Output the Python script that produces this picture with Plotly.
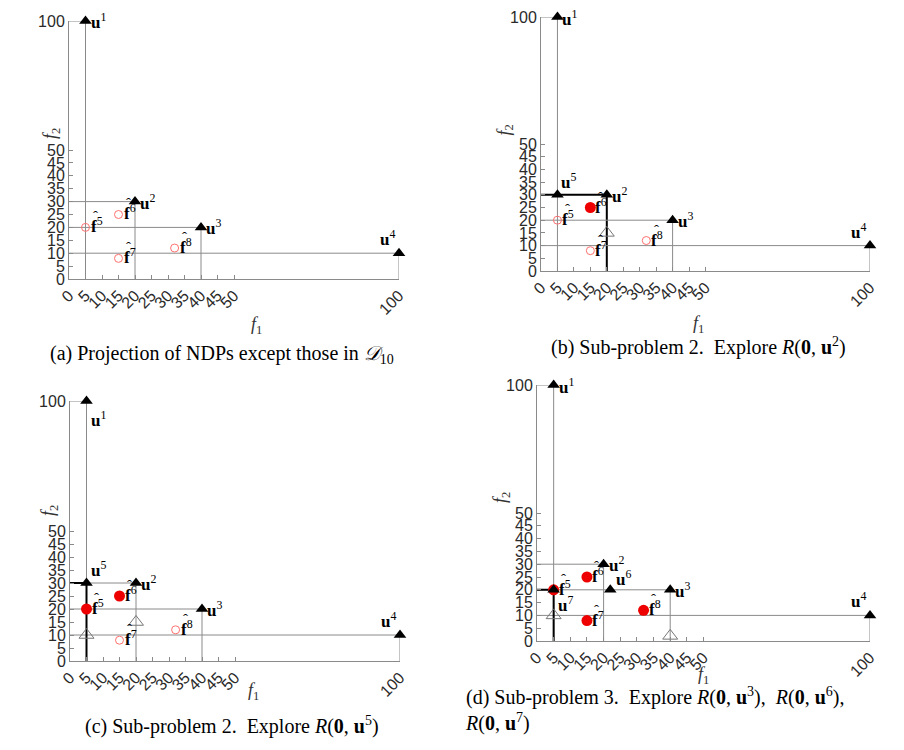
import plotly.graph_objects as go

# ---------------- data ----------------
U_NAMES = ["1", "2", "3", "4", "5", "6", "7"]
U_X = [5, 20, 40, 100, 5, 22, 5]
U_Y = [100, 30, 20, 10, 30, 20, 20]

F_NAMES = ["5", "6", "7", "8"]
F_X = [5, 15, 15, 32]
F_Y = [20, 25, 8, 12]

TICK_VALS = [0, 5, 10, 15, 20, 25, 30, 35, 40, 45, 50, 100]

# per-panel content
PANEL_U = {"a": [1, 2, 3, 4], "b": [1, 2, 3, 4, 5], "c": [1, 2, 3, 4, 5], "d": [1, 2, 3, 4, 6, 7]}
PANEL_L = {"a": [1, 2, 3, 4], "b": [1, 2, 3, 4], "c": [1, 2, 3, 4, 5], "d": [1, 2, 3, 4, 7]}
PANEL_THICK = {"a": None, "b": 2, "c": 5, "d": 7}
PANEL_FILLED = {"a": [], "b": ["6"], "c": ["5", "6"], "d": ["5", "6", "7", "8"]}
OPEN_TRI_X = {"a": [], "b": [20], "c": [5, 20], "d": [5, 40]}
OPEN_TRI_Y = {"a": [], "b": [15], "c": [10, 15], "d": [10, 2]}

CAPTIONS = {
    "a": "(a) Projection of NDPs except those in <i>𝒟</i><sub>10</sub>",
    "b": "(b) Sub-problem 2.  Explore <i>R</i>(<b>0</b>, <b>u</b><sup>2</sup>)",
    "c": "(c) Sub-problem 2.  Explore <i>R</i>(<b>0</b>, <b>u</b><sup>5</sup>)",
    "d": "(d) Sub-problem 3.  Explore <i>R</i>(<b>0</b>, <b>u</b><sup>3</sup>),  <i>R</i>(<b>0</b>, <b>u</b><sup>6</sup>),<br><i>R</i>(<b>0</b>, <b>u</b><sup>7</sup>)",
}

# ---------------- layout geometry (pixels) ----------------
W, H = 904, 750
GEOM = {
    "a": (61, 391, 271, 13),
    "b": (533, 862, 263, 9),
    "c": (62, 392, 653, 393),
    "d": (529, 862, 633, 377),
}
F1_POS = {"a": (241, 318), "b": (698, 316), "c": (238, 697), "d": (703, 681)}
F2_POS = {"a": (30, 118), "b": (497, 115), "c": (28, 510), "d": (493, 490)}
CAP_POS = {"a": (214, 346, "center"), "b": (690, 339, "center"), "c": (224, 732, "center"), "d": (455, 729, "left")}

U_LABEL_OFF = {
    "a": {1: (3, 0, "left"), 2: (3, 0, "left"), 3: (3, 0, "left"), 4: (-2, 15, "right")},
    "b": {1: (3, -1, "left"), 2: (3, 0, "left"), 3: (3, 0, "left"), 4: (-2, 15, "right"), 5: (2, 14, "left")},
    "c": {1: (2, -18, "left"), 2: (3, 0, "left"), 3: (3, 0, "left"), 4: (-2, 15, "right"), 5: (2, 14, "left")},
    "d": {1: (3, -1, "left"), 2: (3, 0, "left"), 3: (3, 0, "left"), 4: (-2, 15, "right"), 6: (4, 12, "left"), 7: (2, -14, "left")},
}

GRAY = "#8a8a8a"
serif = "Liberation Serif"
fig = go.Figure()

panels = ["a", "b", "c", "d"]
for i, p in enumerate(panels):
    n = "" if i == 0 else str(i + 1)
    xa, ya = "x" + n, "y" + n
    x0, x1, y0, y1 = GEOM[p]
    common = dict(
        range=[0, 100], tickvals=TICK_VALS, ticktext=[str(v) for v in TICK_VALS],
        ticks="inside", ticklen=4, tickcolor=GRAY, showline=True, linecolor=GRAY,
        linewidth=1, showgrid=False, zeroline=False, automargin=False, fixedrange=True,
        tickfont=dict(family="Liberation Sans", size=16, color="#2a2a2a"),
    )
    fig.update_layout(**{
        "xaxis" + n: dict(domain=[x0 / W, x1 / W], anchor=ya, tickangle=-45, **common),
        "yaxis" + n: dict(domain=[1 - y0 / H, 1 - y1 / H], anchor=xa, **common),
    })

    # L-shaped guide lines from the axes to each u point
    for k in PANEL_L[p]:
        ux, uy = U_X[k - 1], U_Y[k - 1]
        thick = PANEL_THICK[p] == k
        fig.add_trace(go.Scatter(
            x=[0, ux, ux], y=[uy, uy, 0], mode="lines", xaxis=xa, yaxis=ya,
            line=dict(color="black" if thick else GRAY, width=2 if thick else 1),
            hoverinfo="skip", showlegend=False, cliponaxis=False,
        ))

    if OPEN_TRI_X[p]:
        fig.add_trace(go.Scatter(
            x=OPEN_TRI_X[p], y=OPEN_TRI_Y[p], mode="markers", xaxis=xa, yaxis=ya,
            marker=dict(symbol="triangle-up-open", size=13, color="#777777", line=dict(width=1)),
            showlegend=False, cliponaxis=False,
        ))

    filled = [j for j, nm in enumerate(F_NAMES) if nm in PANEL_FILLED[p]]
    hollow = [j for j, nm in enumerate(F_NAMES) if nm not in PANEL_FILLED[p]]
    if hollow:
        fig.add_trace(go.Scatter(
            x=[F_X[j] for j in hollow], y=[F_Y[j] for j in hollow], mode="markers",
            xaxis=xa, yaxis=ya,
            marker=dict(symbol="circle-open", size=8, color="#ff7070", line=dict(width=1)),
            showlegend=False, cliponaxis=False,
        ))
    if filled:
        fig.add_trace(go.Scatter(
            x=[F_X[j] for j in filled], y=[F_Y[j] for j in filled], mode="markers",
            xaxis=xa, yaxis=ya,
            marker=dict(symbol="circle", size=11, color="#ee0000"),
            showlegend=False, cliponaxis=False,
        ))

    us = PANEL_U[p]
    fig.add_trace(go.Scatter(
        x=[U_X[k - 1] for k in us], y=[U_Y[k - 1] for k in us], mode="markers",
        xaxis=xa, yaxis=ya,
        marker=dict(symbol="triangle-up", size=11, color="black"),
        showlegend=False, cliponaxis=False,
    ))

    for k in us:
        dx, dy, anc = U_LABEL_OFF[p][k]
        fig.add_annotation(
            x=U_X[k - 1], y=U_Y[k - 1], xref=xa, yref=ya,
            text="<b>u</b><sup>" + U_NAMES[k - 1] + "</sup>", showarrow=False,
            xanchor=anc, yanchor="middle", xshift=dx, yshift=dy,
            font=dict(family=serif, size=17, color="black"),
        )
    for j, nm in enumerate(F_NAMES):
        fig.add_annotation(
            x=F_X[j], y=F_Y[j], xref=xa, yref=ya,
            text="<b>f</b><sup>" + nm + "</sup>", showarrow=False,
            xanchor="left", yanchor="middle", xshift=3, yshift=2,
            font=dict(family=serif, size=17, color="black"),
        )
        fig.add_annotation(
            x=F_X[j], y=F_Y[j], xref=xa, yref=ya,
            text="ˆ", showarrow=False,
            xanchor="center", yanchor="middle", xshift=10, yshift=11,
            font=dict(family=serif, size=15, color="black"),
        )

    fx, fy = F1_POS[p]
    fig.add_annotation(x=fx / W, y=1 - fy / H, xref="paper", yref="paper",
                       text="<i>f</i><sub>1</sub>", showarrow=False,
                       font=dict(family=serif, size=18, color="#333333"))
    gx, gy = F2_POS[p]
    fig.add_annotation(x=gx / W, y=1 - gy / H, xref="paper", yref="paper",
                       text="<i>f</i><sub>2</sub>", showarrow=False, textangle=-90,
                       font=dict(family=serif, size=18, color="#333333"))

    cx, cy, canc = CAP_POS[p]
    fig.add_annotation(x=cx / W, y=1 - cy / H, xref="paper", yref="paper",
                       text=CAPTIONS[p], showarrow=False, xanchor=canc, align="left",
                       font=dict(family=serif, size=20, color="black"))

fig.update_layout(
    width=W, height=H, margin=dict(l=0, r=0, t=0, b=0),
    paper_bgcolor="white", plot_bgcolor="white", showlegend=False,
)

fig.write_html("out.html")
